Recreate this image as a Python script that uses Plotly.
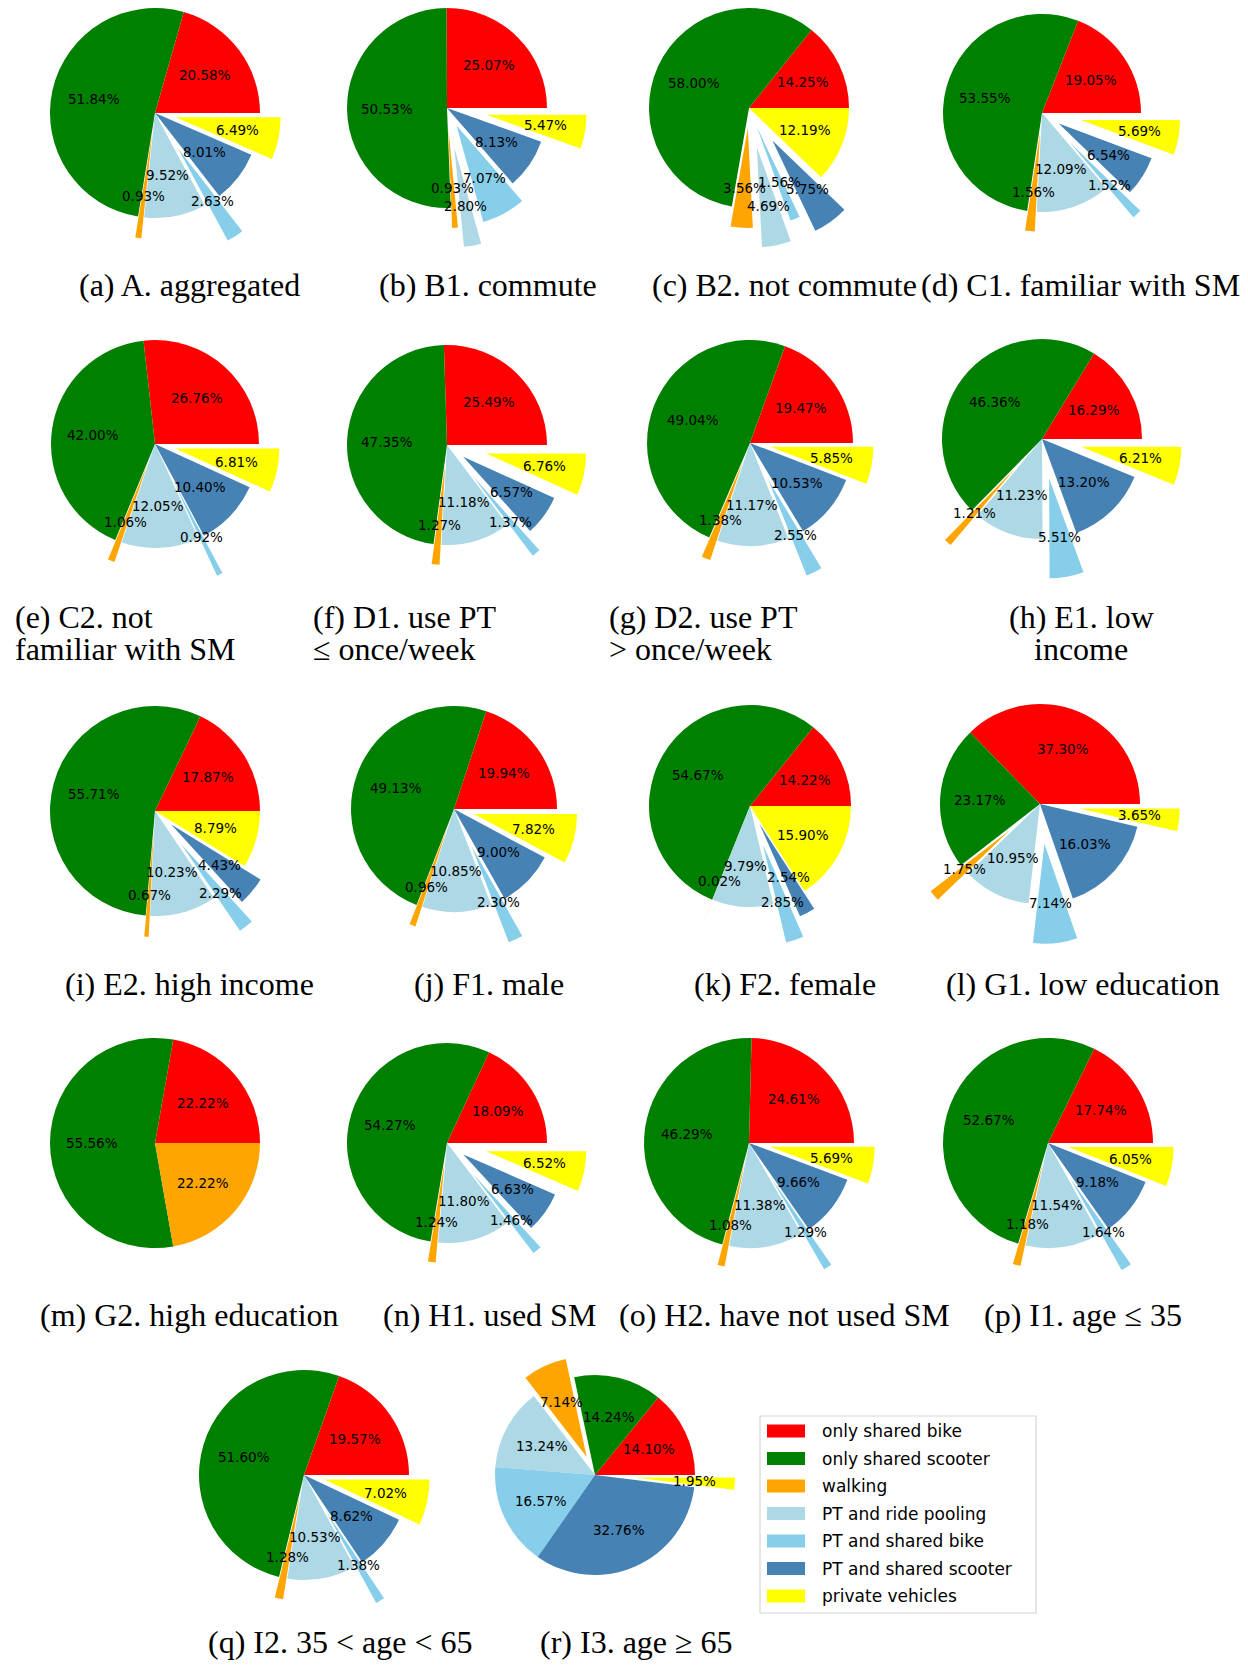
import math
import plotly.graph_objects as go

# the page body adds an 8px margin, so the figure is a bit smaller than the window
PAGE_W, PAGE_H = 1248, 1665
BODY = 8
W, H = PAGE_W - BODY, PAGE_H - BODY

CATEGORIES = ["only shared bike", "only shared scooter", "walking", "PT and ride pooling",
              "PT and shared bike", "PT and shared scooter", "private vehicles"]
COLORS = ["#FF0000", "#008000", "#FFA500", "#ADD8E6", "#87CEEB", "#4682B4", "#FFFF00"]

# shares (%) in category order, one list per subgroup
shares_a = [20.58, 51.84, 0.93, 9.52, 2.63, 8.01, 6.49]
shares_b = [25.07, 50.53, 0.93, 2.80, 7.07, 8.13, 5.47]
shares_c = [14.25, 58.00, 3.56, 4.69, 1.56, 5.75, 12.19]
shares_d = [19.05, 53.55, 1.56, 12.09, 1.52, 6.54, 5.69]
shares_e = [26.76, 42.00, 1.06, 12.05, 0.92, 10.40, 6.81]
shares_f = [25.49, 47.35, 1.27, 11.18, 1.37, 6.57, 6.76]
shares_g = [19.47, 49.04, 1.38, 11.17, 2.55, 10.53, 5.85]
shares_h = [16.29, 46.36, 1.21, 11.23, 5.51, 13.20, 6.21]
shares_i = [17.87, 55.71, 0.67, 10.23, 2.29, 4.43, 8.79]
shares_j = [19.94, 49.13, 0.96, 10.85, 2.30, 9.00, 7.82]
shares_k = [14.22, 54.67, 0.02, 9.79, 2.85, 2.54, 15.90]
shares_l = [37.30, 23.17, 1.75, 10.95, 7.14, 16.03, 3.65]
shares_m = [22.22, 55.56, 22.22, 0, 0, 0, 0]
shares_n = [18.09, 54.27, 1.24, 11.80, 1.46, 6.63, 6.52]
shares_o = [24.61, 46.29, 1.08, 11.38, 1.29, 9.66, 5.69]
shares_p = [17.74, 52.67, 1.18, 11.54, 1.64, 9.18, 6.05]
shares_q = [19.57, 51.60, 1.28, 10.53, 1.38, 8.62, 7.02]
shares_r = [14.10, 14.24, 7.14, 13.24, 16.57, 32.76, 1.95]

# explode (fraction of radius) per slice, like matplotlib's explode=
P1 = [0, 0, 0.2, 0, 0.4, 0, 0.2]
P2 = [0, 0, 0.2, 0, 0.4, 0.2, 0.4]
explode = {
    "a": P1, "b": [0, 0, 0.2, 0.4, 0.2, 0, 0.4], "c": [0, 0, 0.2, 0.4, 0.2, 0.4, 0],
    "d": P2, "e": P1, "f": P2, "g": P1, "h": [0, 0, 0.4, 0, 0.4, 0, 0.4],
    "i": [0, 0, 0.2, 0, 0.4, 0.2, 0], "j": P1, "k": [0, 0, 0.2, 0, 0.4, 0.2, 0],
    "l": [0, 0, 0.4, 0, 0.4, 0, 0.4], "m": [0] * 7, "n": P2, "o": P1, "p": P1, "q": P1,
    "r": [0, 0, 0.2, 0, 0, 0, 0.4],
}

# key, shares, pie centre x/y and radius (page px), caption lines, caption x, caption anchor
panels = [
    ("a", shares_a, 155, 113, 105, ["(a) A. aggregated"], 190, "center"),
    ("b", shares_b, 447, 108, 100, ["(b) B1. commute"], 488, "center"),
    ("c", shares_c, 749, 108, 100, ["(c) B2. not commute"], 784, "center"),
    ("d", shares_d, 1042, 113, 99, ["(d) C1. familiar with SM"], 1080, "center"),
    ("e", shares_e, 155, 444, 104, ["(e) C2. not", "familiar with SM"], 13, "left"),
    ("f", shares_f, 447, 445, 100, ["(f) D1. use PT", "≤ once/week"], 311, "left"),
    ("g", shares_g, 750, 443, 103, ["(g) D2. use PT", "> once/week"], 607, "left"),
    ("h", shares_h, 1042, 439, 100, ["(h) E1. low", "income"], 1081, "center"),
    ("i", shares_i, 155, 811, 105, ["(i) E2. high income"], 190, "center"),
    ("j", shares_j, 454, 809, 103, ["(j) F1. male"], 489, "center"),
    ("k", shares_k, 750, 806, 101, ["(k) F2. female"], 785, "center"),
    ("l", shares_l, 1040, 804, 100, ["(l) G1. low education"], 1083, "center"),
    ("m", shares_m, 155, 1143, 105, ["(m) G2. high education"], 190, "center"),
    ("n", shares_n, 447, 1143, 100, ["(n) H1. used SM"], 489, "center"),
    ("o", shares_o, 749, 1143, 105, ["(o) H2. have not used SM"], 784, "center"),
    ("p", shares_p, 1048, 1143, 105, ["(p) I1. age ≤ 35"], 1083, "center"),
    ("q", shares_q, 304, 1475, 105, ["(q) I2. 35 < age < 65"], 340, "center"),
    ("r", shares_r, 595, 1475, 100, ["(r) I3. age ≥ 65"], 637, "center"),
]
caption_y = {0: 285, 1: 617, 2: 984, 3: 1315, 4: 1642}
line_gap = 32

CLEAR = "rgba(0,0,0,0)"


def px(x):
    return min(max((x - BODY) / W, 0), 1)


def py(y):
    return min(max(1 - (y - BODY) / H, 0), 1)


def domain(cx, cy, r):
    return dict(x=[px(cx - r), px(cx + r)], y=[py(cy + r), py(cy - r)])


def add_pie(fig, vals, colors, cx, cy, r):
    # plotly puts the first slice *before* the rotation angle when counterclockwise,
    # so turn it so the first wedge starts at 3 o'clock like matplotlib
    rot = 90 - 360 * vals[0] / sum(vals)
    fig.add_trace(go.Pie(
        labels=CATEGORIES, values=vals, sort=False, direction="counterclockwise",
        rotation=rot, marker=dict(colors=colors, line=dict(width=0)),
        textinfo="none", hoverinfo="skip", showlegend=False, domain=domain(cx, cy, r)))


fig = go.Figure()
annotations = []

for idx, (key, vals, cx, cy, r, caption, capx, capalign) in enumerate(panels):
    pull = explode[key]
    base_colors = [c if pull[i] == 0 else CLEAR for i, c in enumerate(COLORS)]
    add_pie(fig, vals, base_colors, cx, cy, r)

    total = sum(vals)
    cum = 0
    for i, v in enumerate(vals):
        mid = 2 * math.pi * (cum + v / 2) / total
        cum += v
        if v <= 0:
            continue
        dx, dy = math.cos(mid), -math.sin(mid)
        if pull[i] > 0:
            colors = [COLORS[i] if j == i else CLEAR for j in range(len(vals))]
            add_pie(fig, vals, colors, cx + pull[i] * r * dx, cy + pull[i] * r * dy, r)
        d = (pull[i] + 0.6) * r
        annotations.append(dict(
            x=px(cx + d * dx), y=py(cy + d * dy), xref="paper", yref="paper",
            text=f"{v:.2f}%", showarrow=False, xanchor="center", yanchor="middle",
            font=dict(family="DejaVu Sans", size=13.5, color="black")))

    row = idx // 4
    for li, line in enumerate(caption):
        annotations.append(dict(
            x=px(capx), y=py(caption_y[row] + li * line_gap), xref="paper", yref="paper",
            text=line, showarrow=False, xanchor=capalign, yanchor="middle",
            font=dict(family="Liberation Serif", size=32, color="black")))

# legend box drawn by hand (matplotlib-style wide patches)
shapes = []
lx0, ly0, lx1, ly1 = 760, 1416, 1036, 1613
shapes.append(dict(type="rect", xref="paper", yref="paper", x0=px(lx0), x1=px(lx1),
                   y0=py(ly0), y1=py(ly1), line=dict(color="#d6d6d6", width=1.2),
                   fillcolor="white", layer="below"))
for i, (cat, col) in enumerate(zip(CATEGORIES, COLORS)):
    yc = 1431 + i * 27.5
    shapes.append(dict(type="rect", xref="paper", yref="paper", x0=px(767), x1=px(805),
                       y0=py(yc - 6.5), y1=py(yc + 6.5),
                       line=dict(width=0), fillcolor=col))
    annotations.append(dict(x=px(820), y=py(yc), xref="paper", yref="paper", text=cat,
                            showarrow=False, xanchor="left", yanchor="middle",
                            font=dict(family="DejaVu Sans", size=17, color="black")))

fig.update_layout(
    width=W, height=H,
    margin=dict(l=0, r=0, t=0, b=0),
    paper_bgcolor="white", plot_bgcolor="white",
    showlegend=False,
    annotations=annotations,
    shapes=shapes,
)

fig.write_html("out.html")
